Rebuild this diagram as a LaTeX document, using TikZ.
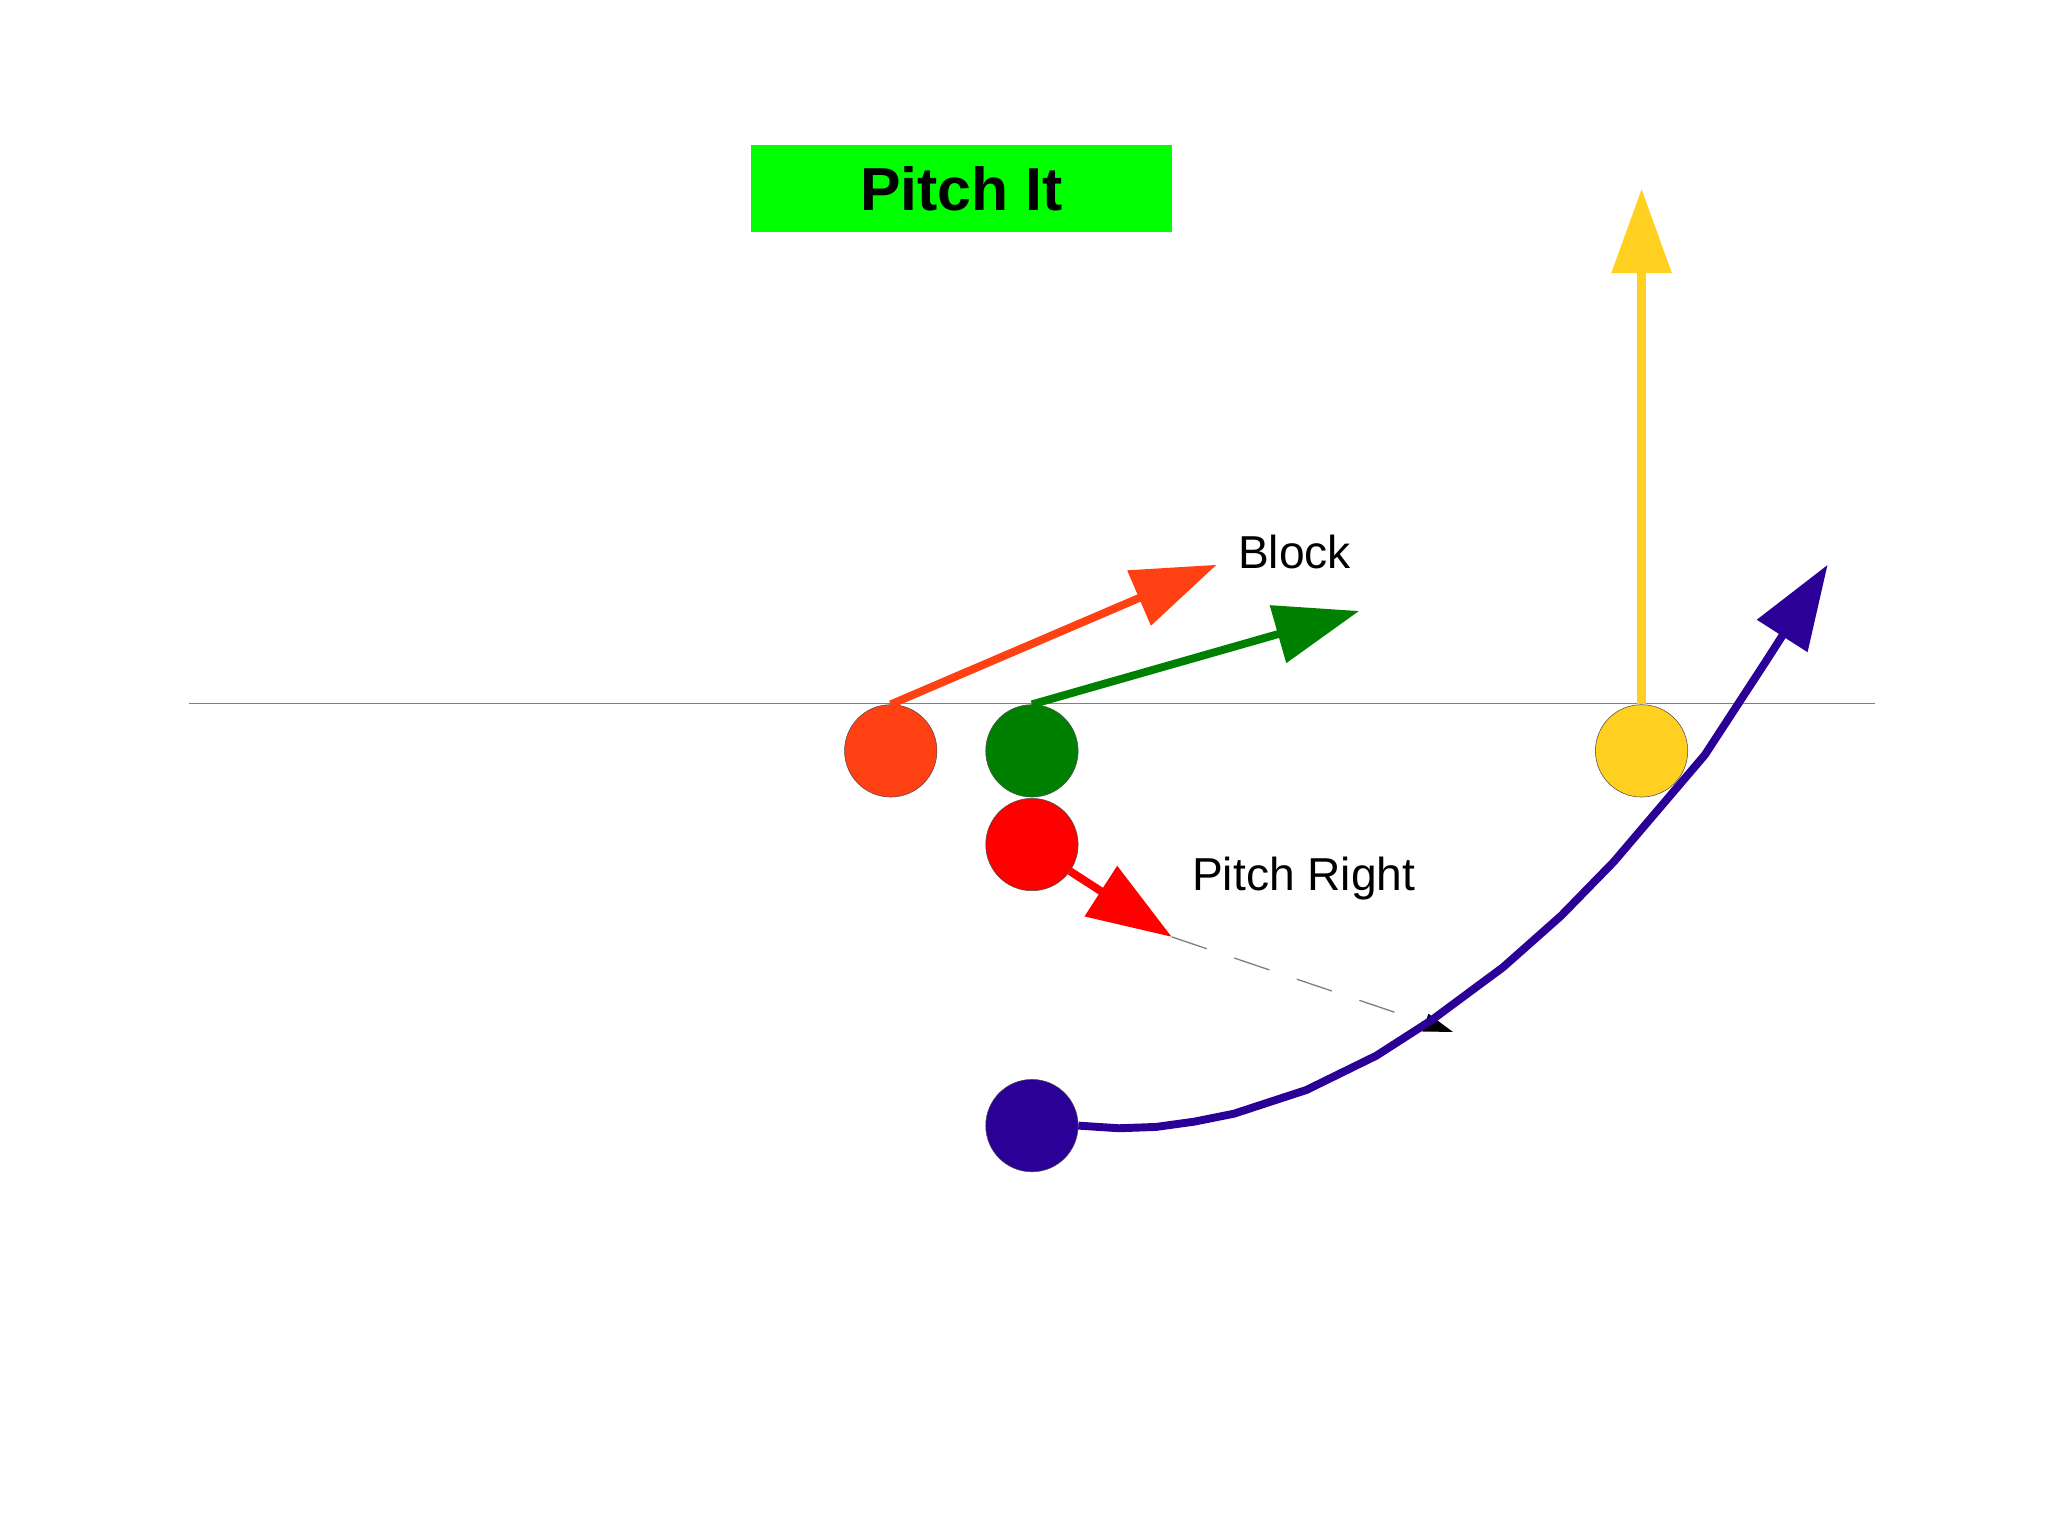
\documentclass[tikz,border=0pt]{standalone}
\usepackage{fontspec}
\setmainfont{Liberation Sans}
\usetikzlibrary{arrows.meta}
\definecolor{cOr}{HTML}{FF4012}
\definecolor{cGr}{HTML}{008000}
\definecolor{cRd}{HTML}{FF0000}
\definecolor{cYe}{HTML}{FFD020}
\definecolor{cBl}{HTML}{2A0096}
\definecolor{cTi}{HTML}{00FF00}
\begin{document}
\begin{tikzpicture}[x=1pt,y=-1pt,
  player/.style={circle,minimum size=70pt,inner sep=0pt,draw=black!70,line width=0.4pt},
  route/.style={line width=6pt,-{Triangle[length=64pt,width=44pt]}},
  lbl/.style={font=\fontsize{35}{40}\selectfont,inner sep=0pt}]
\useasboundingbox (0,0) rectangle (1552,1164);
\node[fill=cTi,minimum width=319pt,minimum height=66pt,inner sep=0pt,font=\fontsize{46}{50}\selectfont\bfseries] (title) at (728.5,143) {Pitch It};
\coordinate (l1) at (143,533); \coordinate (l2) at (1421,533);
\draw[gray,line width=0.8pt] (l1) -- (l2);
\node[player,fill=cOr] (o) at (675,569) {};
\node[player,fill=cGr] (g) at (782,569) {};
\node[player,fill=cRd] (r) at (782,640) {};
\node[player,fill=cYe] (y) at (1244,569) {};
\node[player,fill=cBl] (b) at (782,853) {};
\coordinate (ot) at (922,428);
\coordinate (gt) at (1030,463);
\coordinate (yt) at (1244,143);
\coordinate (rt) at (888,710);
\coordinate (pt) at (1101,782);
\coordinate (bt) at (1385,428);
\draw[route,cOr] (o.north) -- (ot);
\draw[route,cGr] (g.north) -- (gt);
\draw[route,cYe,line width=7pt] (y.north) -- (yt);
\draw[route,cRd] (r.-35) -- (rt);
\draw[gray,line width=1pt,dash pattern=on 28pt off 22pt,-{Triangle[length=22pt,width=14pt,black]}] (rt) -- (pt);
\draw[route,cBl,line join=round] (b.east) -- (848,855) -- (876,854) -- (905,850) -- (935,844) -- (990,826) -- (1043,800) -- (1085,773) -- (1139,733) -- (1183,694) -- (1223,653) -- (1292,572) -- (1339,500) -- (bt);
\node[lbl] (blk) at (981,418) {Block};
\node[lbl] (pr) at (988,666) {Pitch Right};
\end{tikzpicture}
\end{document}
